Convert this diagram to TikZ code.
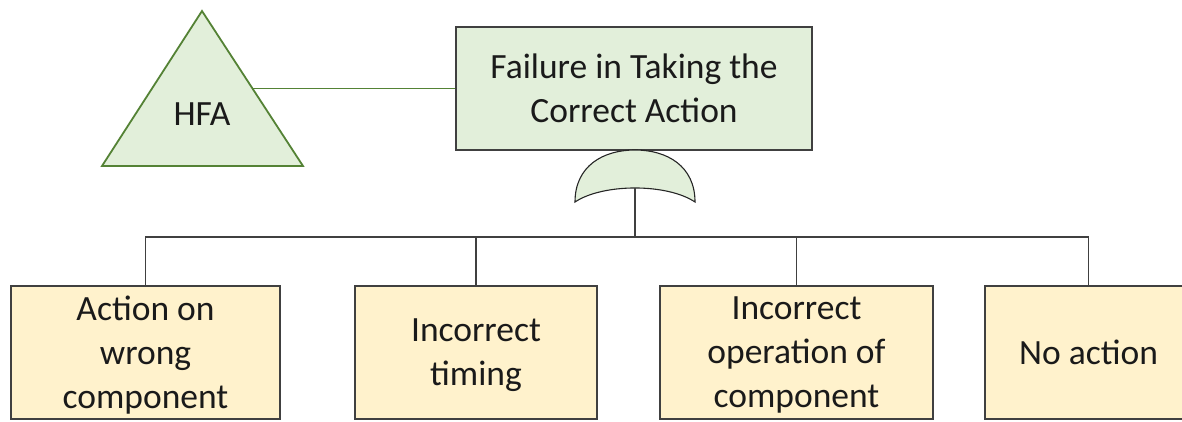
\documentclass[tikz,border=0pt]{standalone}
\usepackage{fontspec}
\setmainfont{Carlito}
\definecolor{leafgreen}{HTML}{E2EFDA}
\definecolor{leafedge}{HTML}{548235}
\definecolor{basicfill}{HTML}{FFF2CC}
\definecolor{edgegray}{HTML}{404040}
\definecolor{inkdark}{HTML}{1A1A1A}
\tikzset{
  txt/.style={font=\fontsize{35.5}{44}\selectfont, text=inkdark, align=center},
  topbox/.style={txt, draw=edgegray, line width=1.6pt, fill=leafgreen, inner sep=0pt},
  basicbox/.style={txt, text depth=0pt, draw=edgegray, line width=1.2pt, fill=basicfill, inner sep=0pt},
  wire/.style={draw=edgegray, line width=1.3pt},
  greenwire/.style={draw=leafedge, line width=1pt},
  transfer/.style={draw=leafedge, line width=1.8pt, fill=leafgreen, line join=miter},
  gate/.style={draw=black!85, line width=1.1pt, fill=leafgreen},
}
\begin{document}
\begin{tikzpicture}[x=1pt, y=-1pt]
\useasboundingbox (0,0) rectangle (1182,421);
\clip (0,0) rectangle (1182,421);

% top event
\node[topbox, minimum width=356pt, minimum height=123pt] (top) at (634,88.5)
  {Failure in Taking the\\Correct Action};

% transfer triangle
\coordinate (triApex) at (202,11);
\coordinate (triRight) at (303,166);
\coordinate (triLeft) at (102,166);
\draw[transfer] (triApex) -- (triRight) -- (triLeft) -- cycle;
\node[txt] (hfa) at (202,114) {HFA};
\coordinate (triEdge) at (252.8,88.5);
\draw[greenwire] (triEdge) -- (top.west);

% OR gate
\coordinate (gateL) at (575,202);
\coordinate (gateR) at (695,202);
\coordinate (gateTop) at (635,150);
\coordinate (gateIn) at (635,188);
\draw[gate] (gateL) .. controls (575,166) and (603,150) .. (gateTop)
  .. controls (667,150) and (695,166) .. (gateR)
  .. controls (667,183.3) and (603,183.3) .. (gateL) -- cycle;

% basic events
\node[basicbox, minimum width=269pt, minimum height=133pt] (b1) at (145.5,352.5)
  {Action on\\wrong\\component};
\node[basicbox, minimum width=242pt, minimum height=133pt] (b2) at (476,352.5)
  {Incorrect\\timing};
\node[basicbox, minimum width=273pt, minimum height=133pt] (b3) at (796.5,352.5)
  {Incorrect\\operation of\\component};
\node[basicbox, minimum width=207pt, minimum height=133pt] (b4) at (1088.5,352.5)
  {No action};

% connectors
\coordinate (bus) at (635,237);
\draw[wire] (gateIn) -- (bus);
\draw[wire] (b1.north) |- (bus) -| (b4.north);
\draw[wire] (b2.north) -- (b2.north |- bus);
\draw[wire] (b3.north) -- (b3.north |- bus);
\end{tikzpicture}
\end{document}
